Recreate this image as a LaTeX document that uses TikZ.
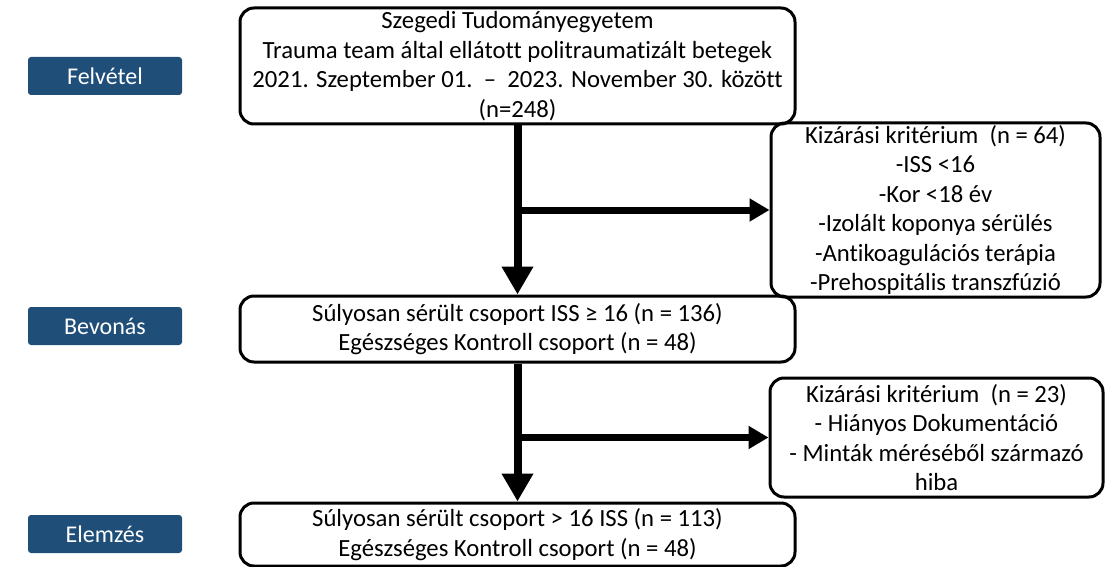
\documentclass[tikz,border=0pt]{standalone}
\usepackage{fontspec}
\setmainfont{Carlito}[Ligatures=NoCommon]
\usepackage{tikz}
\usetikzlibrary{arrows.meta}
\definecolor{phaseblue}{RGB}{31,78,121}
\newcommand{\phaselabel}[3]{\node[phase] (#1) at (105,#2) {#3};}
\tikzset{
  box/.style={draw, line width=3pt, rounded corners=14pt, align=center, inner sep=0pt,
    font=\fontsize{24.7}{29.5}\selectfont},
  phase/.style={fill=phaseblue, rounded corners=3pt, text=white, minimum width=154pt,
    minimum height=38pt, inner sep=0pt, font=\fontsize{24}{26}\selectfont},
  mainflow/.style={line width=8pt, -{Triangle[width=30pt,length=28pt]}},
  sideflow/.style={line width=7pt, -{Triangle[width=22pt,length=20pt]}}
}
\begin{document}
\begin{tikzpicture}[x=1pt,y=-1pt]
\useasboundingbox (0,0) rectangle (1108,567);
% phases on the left
\phaselabel{felv}{76}{Felvétel}
\phaselabel{bevon}{326}{Bevonás}
\phaselabel{elem}{534}{Elemzés}
% main column
\node[box, minimum width=555pt, minimum height=116pt] (start) at (517.5,66)
  {Szegedi Tudományegyetem\\Trauma team által ellátott politraumatizált betegek\\
   2021. Szeptember 01.\ \ --\ \ 2023. November 30. között\\(n=248)};
\node[box, minimum width=555pt, minimum height=66pt] (incl) at (517.5,329)
  {Súlyosan sérült csoport ISS ≥ 16 (n = 136)\\Egészséges Kontroll csoport (n = 48)};
\node[box, minimum width=555pt, minimum height=63pt] (anal) at (517.5,534.5)
  {Súlyosan sérült csoport > 16 ISS (n = 113)\\Egészséges Kontroll csoport (n = 48)};
% exclusions
\node[box, minimum width=329pt, minimum height=174pt] (excl1) at (935.5,210)
  {Kizárási kritérium\ \ (n = 64)\\-ISS <16\\-Kor <18 év\\-Izolált koponya sérülés\\
   -Antikoagulációs terápia\\-Prehospitális transzfúzió};
\node[box, minimum width=333pt, minimum height=119pt] (excl2) at (936.5,437.5)
  {Kizárási kritérium\ \ (n = 23)\\- Hiányos Dokumentáció\\- Minták méréséből származó\\hiba};
\coordinate (j1) at (517.5,210);
\coordinate (j2) at (517.5,437.5);
\draw[mainflow] (start.south) -- (incl.north);
\draw[mainflow] (incl.south) -- (anal.north);
\draw[sideflow] (j1) -- (excl1.west);
\draw[sideflow] (j2) -- (excl2.west);
\end{tikzpicture}
\end{document}
